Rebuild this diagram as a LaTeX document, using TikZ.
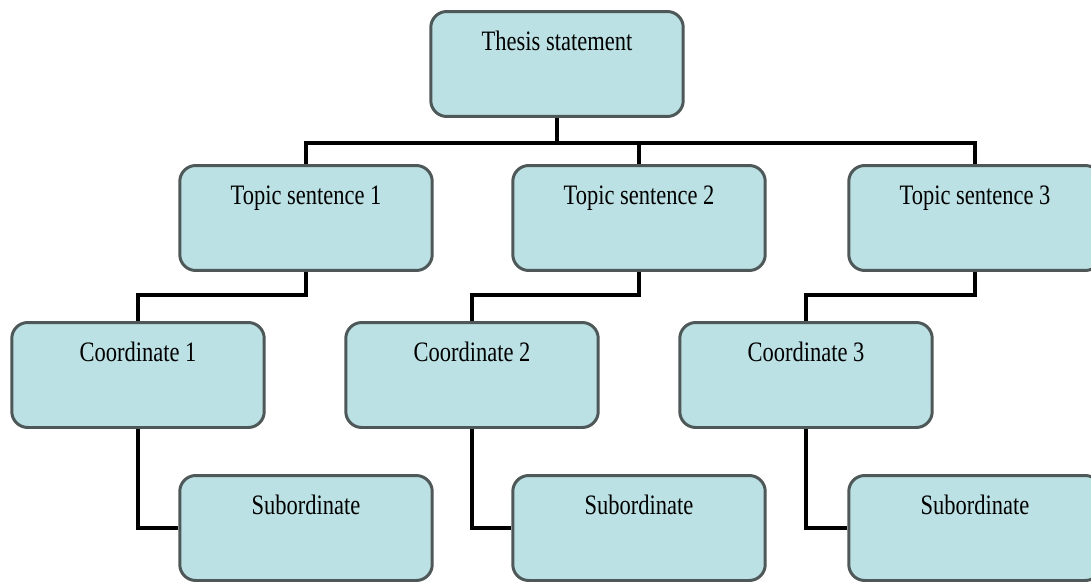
\documentclass[tikz,border=0pt]{standalone}
\usepackage{fontspec}
\newfontfamily\boxfont[FakeStretch=0.8]{Liberation Serif}
\usetikzlibrary{positioning}
\usepackage{xcolor}
\definecolor{boxfill}{RGB}{187,225,228}
\definecolor{boxline}{RGB}{78,88,88}
\tikzset{
  outline/.style={draw=boxline,fill=boxfill,line width=1.7pt,rounded corners=0.32cm,
    minimum width=5.05cm,inner xsep=0pt,inner ysep=0pt,
    text height=0.77cm,text depth=1.33cm,
    font=\boxfont\fontsize{16}{18}\selectfont},
  link/.style={line width=2.8pt,black}
}
\begin{document}
\begin{tikzpicture}[x=0.02cm,y=-0.02cm]
\useasboundingbox (0,0) rectangle (1091,581);
\node[outline] (thesis) at (557,64) {Thesis statement};
\foreach \i/\tx/\cx in {1/306/138,2/639/472,3/975/806}{
  \node[outline] (topic\i) at (\tx,218) {Topic sentence \i};
  \node[outline] (coord\i) at (\cx,375) {Coordinate \i};
  \node[outline] (sub\i) at (\tx,528) {Subordinate};
}
% connectors
\foreach \i in {1,2,3}{
  \draw[link] (thesis.south) -- ++(0,25) -| (topic\i.north);
  \draw[link] (topic\i.south) -- ++(0,23) -| (coord\i.north);
  \draw[link] (coord\i.south) |- (sub\i.west);
}
\end{tikzpicture}
\end{document}
